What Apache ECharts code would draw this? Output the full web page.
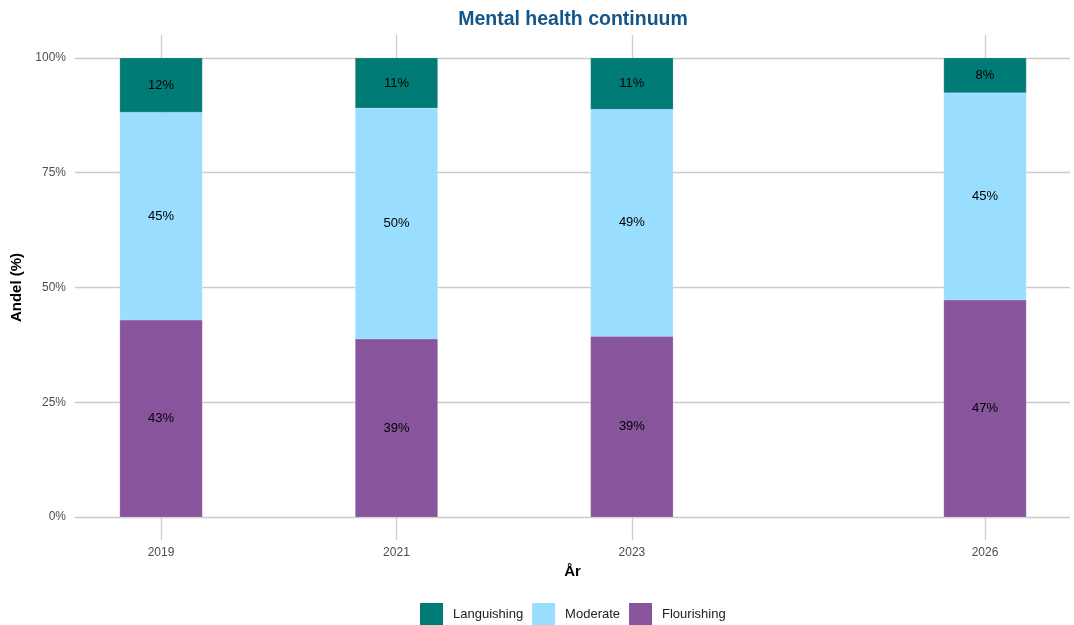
<!DOCTYPE html>
<html>
<head>
    <meta charset="utf-8">
    <title>Mental health continuum</title>
    <script src="https://cdn.jsdelivr.net/npm/echarts@6/dist/echarts.min.js"></script>
</head>
<body style="margin:0">
    <div id="main" style="width:1074px;height:625px;"></div>
    <script type="text/javascript">
var years = [2019, 2021, 2023, 2026]
var flourishing = [0.429, 0.388, 0.394, 0.473]
var moderate = [0.453, 0.503, 0.494, 0.451]
var languishing = [0.118, 0.109, 0.112, 0.076]
var yTicks = [0, 0.25, 0.5, 0.75, 1]
var seriesNames = ['Languishing', 'Moderate', 'Flourishing']
var colors = { Languishing: '#007b76', Moderate: '#99ddff', Flourishing: '#88549c' }

var font = 'Liberation Sans, Arial, sans-serif'
var barWidthYears = 0.7
var myChart = echarts.init(document.getElementById('main'))

// stacking order from bottom: Flourishing, Moderate, Languishing
var stackOrder = [['Flourishing', flourishing], ['Moderate', moderate], ['Languishing', languishing]]
var base = years.map(function () { return 0 })

function renderSegment (params, api) {
  var x = api.value(0)
  var lo = api.coord([x, api.value(1)])
  var hi = api.coord([x, api.value(2)])
  var w = api.size([barWidthYears, 0])[0]
  var rect = echarts.graphic.clipRectByRect({
    x: lo[0] - w / 2, y: hi[1], width: w, height: lo[1] - hi[1]
  }, {
    x: params.coordSys.x, y: params.coordSys.y, width: params.coordSys.width, height: params.coordSys.height
  })
  return {
    type: 'rect',
    shape: rect,
    style: api.style({ fill: colors[params.seriesName], stroke: 'rgba(255,255,255,0.35)', lineWidth: 0.5 }),
    textContent: {
      style: {
        text: Math.round(api.value(3) * 100) + '%',
        fill: '#000',
        fontSize: 13,
        fontFamily: font
      }
    },
    textConfig: { position: 'inside' }
  }
}

var series = stackOrder.map(function (s) {
  var data = years.map(function (y, i) {
    var row = [y, base[i], base[i] + s[1][i], s[1][i]]
    base[i] += s[1][i]
    return row
  })
  return {
    name: s[0],
    type: 'custom',
    itemStyle: { color: colors[s[0]] },
    renderItem: renderSegment,
    encode: { x: 0, y: [1, 2] },
    data: data
  }
})

var option = {
  backgroundColor: '#fff',
  animation: false,
  title: {
    text: 'Mental health continuum',
    left: 568,
    textAlign: 'center',
    top: 5,
    textStyle: { color: '#15568a', fontSize: 19.5, fontWeight: 'bold', fontFamily: font }
  },
  legend: {
    data: seriesNames,
    top: 603,
    left: 420,
    padding: 0,
    itemWidth: 23,
    itemHeight: 23,
    itemGap: 9,
    icon: 'rect',
    textStyle: { color: '#222', fontSize: 13, fontFamily: font, padding: [0, 0, 0, 5] }
  },
  grid: { left: 75, right: 4, top: 35, bottom: 85, containLabel: false },
  xAxis: {
    type: 'value',
    min: 2018.269,
    max: 2026.722,
    name: 'År',
    nameLocation: 'middle',
    nameGap: 21,
    nameTextStyle: { color: '#000', fontSize: 15, fontWeight: 'bold', fontFamily: font },
    axisLine: { show: false },
    axisTick: { show: false, customValues: years },
    axisLabel: {
      customValues: years,
      color: '#4d4d4d',
      fontSize: 12,
      fontFamily: font,
      margin: 7,
      formatter: function (v) { return String(v) }
    },
    splitLine: { show: true, lineStyle: { color: '#cccccc', width: 1.3 } }
  },
  yAxis: {
    type: 'value',
    min: -0.05,
    max: 1.05,
    name: 'Andel (%)',
    nameLocation: 'middle',
    nameGap: 39,
    nameTextStyle: { color: '#000', fontSize: 15, fontWeight: 'bold', fontFamily: font },
    axisLine: { show: false },
    axisTick: { show: false, customValues: yTicks },
    axisLabel: {
      customValues: yTicks,
      color: '#4d4d4d',
      fontSize: 12,
      fontFamily: font,
      margin: 9,
      formatter: function (v) { return Math.round(v * 100) + '%' }
    },
    splitLine: { show: true, lineStyle: { color: '#cccccc', width: 1.3 } }
  },
  series: series
}
myChart.setOption(option)
    </script>
</body>
</html>
